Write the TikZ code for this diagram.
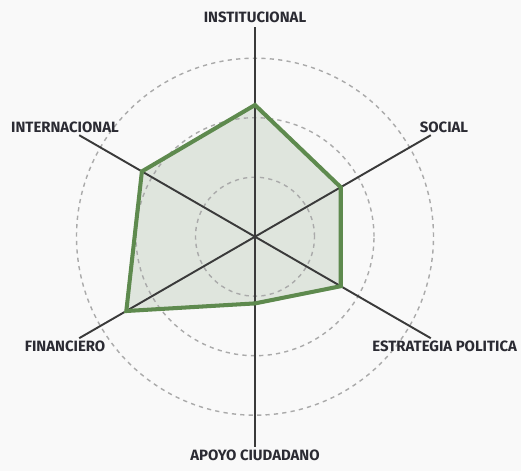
\documentclass[tikz,border=0pt]{standalone}
\usepackage{fontspec}
\setmainfont{Fira Sans}
\usetikzlibrary{calc}

\definecolor{bgcol}{HTML}{F9F9F9}
\definecolor{axiscol}{HTML}{3A3A3A}
\definecolor{ringcol}{HTML}{AAAAAA}
\definecolor{areacol}{HTML}{DFE5DD}
\definecolor{linecol}{HTML}{5E8A4E}
\definecolor{labelcol}{HTML}{2B2B33}

\begin{document}
\begin{tikzpicture}[
        x=0.02cm, y=0.02cm,
        axis/.style={line width=1.1pt, draw=axiscol},
        ring/.style={draw=ringcol, line width=0.8pt, dash pattern=on 2.4pt off 2.4pt},
        lbl/.style={font=\fontsize{8.5}{10}\selectfont\bfseries, text=labelcol, inner sep=0pt},
    ]
    \fill[bgcol] (-255,-234.3) rectangle (266,236.7);
    \useasboundingbox (-255,-234.3) rectangle (266,236.7);

    \coordinate (c) at (0,0);

    % axis ends
    \coordinate (inst) at (90:210);
    \coordinate (soc) at (30:203);
    \coordinate (estr) at (-30:203);
    \coordinate (apoyo) at (-90:210);
    \coordinate (fin) at (210:203);
    \coordinate (inter) at (150:203);

    % values
    \coordinate (vinst) at (90:131.7);
    \coordinate (vsoc) at (30:99);
    \coordinate (vestr) at (-30:99);
    \coordinate (vapoyo) at (-90:66.7);
    \coordinate (vfin) at (210:148.6);
    \coordinate (vinter) at (150:130.6);

    \fill[areacol] (vinst) -- (vsoc) -- (vestr) -- (vapoyo) -- (vfin) -- (vinter) -- cycle;

    \foreach \r in {59.5, 119, 178.5}
        \draw[ring] (c) circle (\r);

    \foreach \e in {inst, soc, estr, apoyo, fin, inter}
        \draw[axis] (c) -- (\e);

    \draw[draw=linecol, line width=2.3pt, line join=miter]
        (vinst) -- (vsoc) -- (vestr) -- (vapoyo) -- (vfin) -- (vinter) -- cycle;

    \node[lbl] (linst) at (0,219.7) {INSTITUCIONAL};
    \node[lbl] (lsoc) at (189,109.7) {SOCIAL};
    \node[lbl] (linter) at (-190,109.7) {INTERNACIONAL};
    \node[lbl] (lfin) at (-190,-110) {FINANCIERO};
    \node[lbl] (lestr) at (189.7,-110) {ESTRATEGIA POLITICA};
    \node[lbl] (lapoyo) at (0,-218.3) {APOYO CIUDADANO};
\end{tikzpicture}
\end{document}
